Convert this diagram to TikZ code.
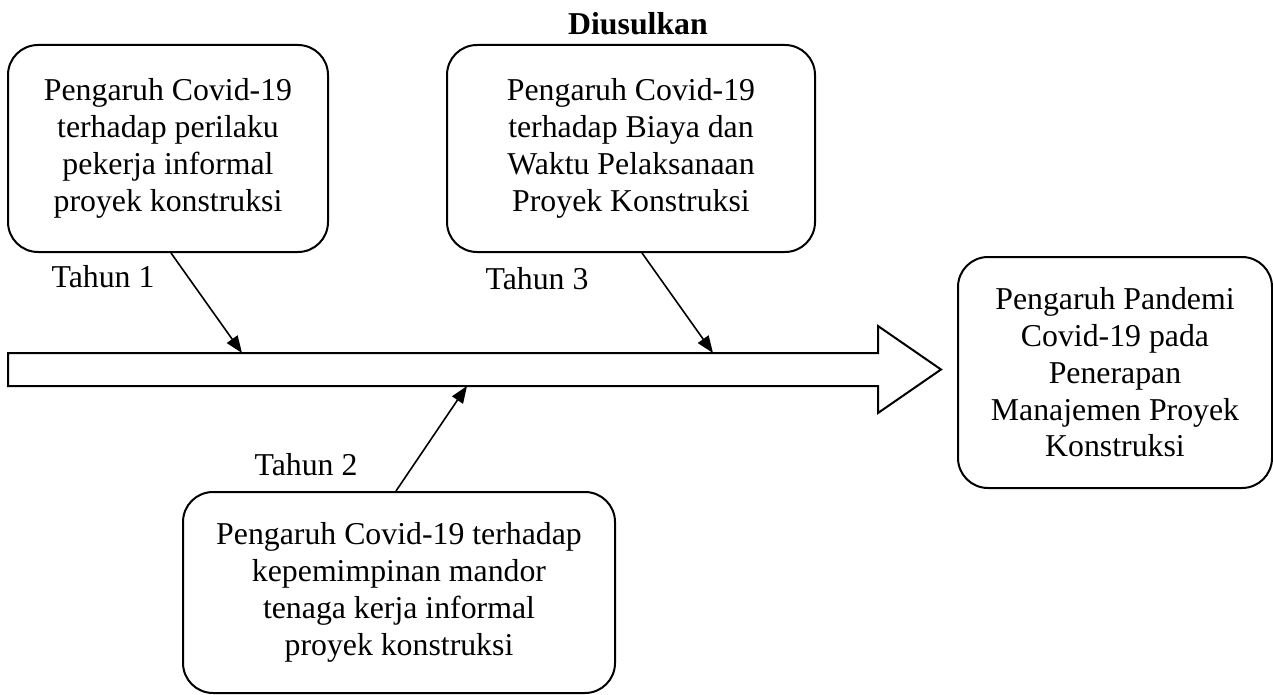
\documentclass[tikz,border=0pt]{standalone}
\usepackage{fontspec}
\setmainfont{Liberation Serif}
\usetikzlibrary{arrows.meta}
\begin{document}
\begin{tikzpicture}[x=0.5pt,y=-0.5pt,
  box/.style={draw,line width=1pt,rounded corners=15pt,align=center,inner sep=0pt},
  lbl/.style={inner sep=0pt},
  conn/.style={line width=0.8pt,-{Triangle[length=8.5pt,width=6.5pt]}},
  font=\fontsize{15.9}{18.4}\selectfont]
\useasboundingbox (0,0) rectangle (1273,695);
\node[lbl,font=\fontsize{15.9}{18.4}\selectfont\bfseries] (usul) at (638,24) {Diusulkan};
\node[box,minimum width=160pt,minimum height=103.5pt] (b1) at (168,148.5)
  {Pengaruh Covid-19\\terhadap perilaku\\pekerja informal\\proyek konstruksi};
\node[box,minimum width=184pt,minimum height=103.5pt] (b3) at (631,148.5)
  {Pengaruh Covid-19\\terhadap Biaya dan\\Waktu Pelaksanaan\\Proyek Konstruksi};
\node[box,minimum width=216pt,minimum height=100.5pt] (b2) at (399,592.5)
  {Pengaruh Covid-19 terhadap\\kepemimpinan mandor\\tenaga kerja informal\\proyek konstruksi};
\node[box,minimum width=157pt,minimum height=115.5pt] (hasil) at (1115,372.5)
  {Pengaruh Pandemi\\Covid-19 pada\\Penerapan\\Manajemen Proyek\\Konstruksi};
% timeline arrow
\draw[line width=1pt] (8,353) -- (878,353) -- (878,326) -- (941,369.5)
  -- (878,413) -- (878,386) -- (8,386) -- cycle;
\coordinate (t1) at (242,353);
\coordinate (t3) at (713,353);
\coordinate (t2) at (467,386);
\draw[conn] (b1.south -| 171,0) -- (t1);
\draw[conn] (b3.south -| 642,0) -- (t3);
\draw[conn] (b2.north -| 396,0) -- (t2);
\node[lbl] (th1) at (103,277) {Tahun 1};
\node[lbl] (th3) at (537,279) {Tahun 3};
\node[lbl] (th2) at (306,465) {Tahun 2};
\end{tikzpicture}
\end{document}
